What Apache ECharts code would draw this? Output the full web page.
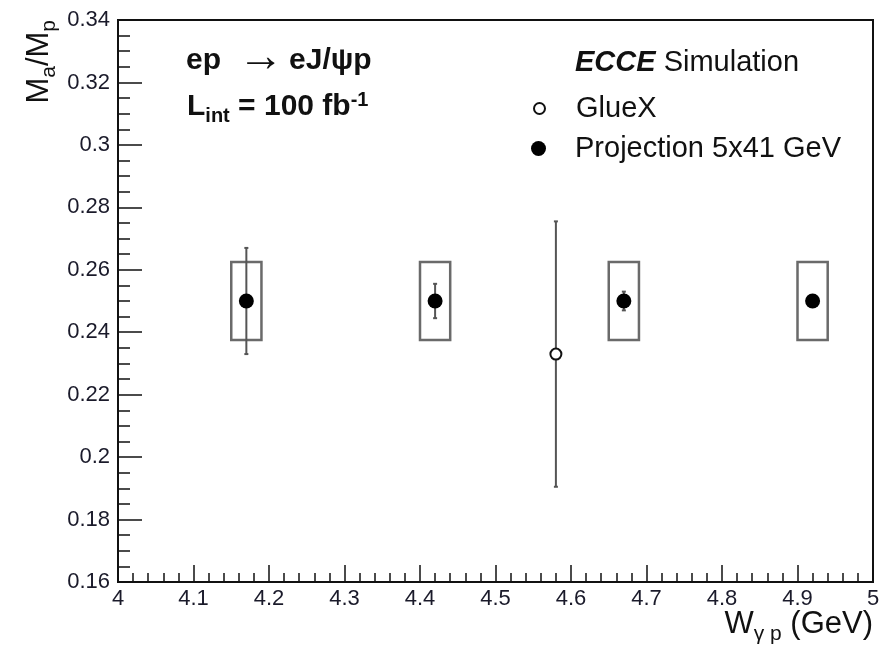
<!DOCTYPE html>
<html>
<head>
<meta charset="utf-8">
<script src="https://cdn.jsdelivr.net/npm/echarts@6/dist/echarts.min.js"></script>
<style>
  html, body { margin: 0; padding: 0; background: #fff; }
  #chart { width: 879px; height: 645px; }
</style>
</head>
<body>
<div id="chart"></div>
<script>
const FONT = '"Liberation Sans", Arial, Helvetica, sans-serif';
const INK = '#111';

// Projected ECCE points (5x41 GeV): W_gamma p bins, mass ratio, stat. error,
// systematic half-height and half bin width for the boxes
const projW = [4.17, 4.42, 4.67, 4.92];
const projRatio = [0.25, 0.25, 0.25, 0.25];
const projStatErr = [0.017, 0.0055, 0.003, 0];
const projSysHalf = [0.0125, 0.0125, 0.0125, 0.0125];
const projBinHalf = [0.02, 0.02, 0.02, 0.02];

// GlueX measurement
const gluexW = [4.58];
const gluexRatio = [0.233];
const gluexErr = [0.0425];

// Axis ranges and tick spacing
const xRange = [4, 5];
const xStep = 0.1;
const yRange = [0.16, 0.34];
const yStep = 0.02;

const projPoints = projW.map((w, i) => [w, projRatio[i]]);
const projErrData = projW.map((w, i) => [w, projRatio[i], projStatErr[i]]);
const projBoxData = projW.map((w, i) => [w, projRatio[i], projBinHalf[i], projSysHalf[i]]);
const gluexPoints = gluexW.map((w, i) => [w, gluexRatio[i]]);
const gluexErrData = gluexW.map((w, i) => [w, gluexRatio[i], gluexErr[i]]);

function errorBarItem(params, api) {
  const x = api.value(0), y = api.value(1), e = api.value(2);
  if (!e) return null;
  const top = api.coord([x, y + e]);
  const bot = api.coord([x, y - e]);
  const style = { stroke: '#555', lineWidth: 2 };
  const cap = 2;
  return {
    type: 'group',
    children: [
      { type: 'line', shape: { x1: top[0], y1: top[1], x2: bot[0], y2: bot[1] }, style },
      { type: 'line', shape: { x1: top[0] - cap, y1: top[1], x2: top[0] + cap, y2: top[1] }, style },
      { type: 'line', shape: { x1: bot[0] - cap, y1: bot[1], x2: bot[0] + cap, y2: bot[1] }, style }
    ]
  };
}

function sysBoxItem(params, api) {
  const x = api.value(0), y = api.value(1), dx = api.value(2), dy = api.value(3);
  const p0 = api.coord([x - dx, y + dy]);
  const p1 = api.coord([x + dx, y - dy]);
  return {
    type: 'rect',
    shape: { x: p0[0], y: p0[1], width: p1[0] - p0[0], height: p1[1] - p0[1] },
    style: { fill: 'none', stroke: '#6a6a6a', lineWidth: 2.5 }
  };
}

const bold = { fontFamily: FONT, fontWeight: 'bold', fontSize: 30, color: INK, lineHeight: 34 };
const arrow = { fontFamily: FONT, fontWeight: 'normal', fontSize: 46, color: INK, lineHeight: 28, padding: [0, 5, 6, 17] };
const boldSub = { fontFamily: FONT, fontWeight: 'bold', fontSize: 20, color: INK, lineHeight: 20, verticalAlign: 'top', padding: [16, 0, 0, 0] };
const boldSup = { fontFamily: FONT, fontWeight: 'bold', fontSize: 20, color: INK, lineHeight: 20, verticalAlign: 'top', padding: [0, 0, 0, 0] };
const plain = { fontFamily: FONT, fontWeight: 'normal', fontSize: 29, color: INK, lineHeight: 32 };
const axisMain = { fontFamily: FONT, fontWeight: 'normal', fontSize: 31, color: INK, lineHeight: 34 };
const axisSub = { fontFamily: FONT, fontWeight: 'normal', fontSize: 21, color: INK, lineHeight: 21, verticalAlign: 'top', padding: [17, 0, 0, 0] };

const axisCommon = {
  type: 'value',
  splitLine: { show: false },
  axisLine: { show: true, onZero: false, lineStyle: { color: INK, width: 2 } },
  nameMoveOverlap: false
};

const option = {
  animation: false,
  backgroundColor: '#fff',
  grid: {
    left: 118, right: 6, top: 20, bottom: 63,
    show: true, borderColor: INK, borderWidth: 2, backgroundColor: 'transparent',
    outerBoundsMode: 'none'
  },
  title: [
    {
      text: '{b|ep}{a|→}{b|eJ/ψp}',
      left: 186, top: 44, padding: 0,
      textStyle: { rich: { b: bold, a: arrow } }
    },
    {
      text: '{b|L}{s|int}{b| = 100 fb}{p|-1}',
      left: 187, top: 90, padding: 0,
      textStyle: { rich: { b: bold, s: boldSub, p: boldSup } }
    },
    {
      text: '{bi|ECCE}{r| Simulation}',
      left: 575, top: 47, padding: 0,
      textStyle: { fontWeight: 'normal', rich: {
        bi: { fontFamily: FONT, fontWeight: 'bold', fontStyle: 'italic', fontSize: 29, color: INK, lineHeight: 32 },
        r: plain
      } }
    }
  ],
  legend: [
    {
      data: ['GlueX'], orient: 'vertical', left: 533, top: 94, padding: 0,
      itemWidth: 11, itemHeight: 11, selectedMode: false,
      textStyle: { fontFamily: FONT, fontSize: 29, color: INK, padding: [0, 0, 0, 26] }
    },
    {
      data: ['Projection 5x41 GeV'], orient: 'vertical', left: 531, top: 134, padding: 0,
      itemWidth: 15, itemHeight: 15, selectedMode: false,
      textStyle: { fontFamily: FONT, fontSize: 29, color: INK, padding: [0, 0, 0, 24] }
    }
  ],
  xAxis: Object.assign({}, axisCommon, {
    min: xRange[0], max: xRange[1], interval: xStep,
    axisTick: { show: true, inside: true, length: 17, lineStyle: { color: INK, width: 1.5 } },
    minorTick: { show: true, splitNumber: 5, length: 9, lineStyle: { color: INK, width: 1.5 } },
    axisLabel: { fontFamily: FONT, fontSize: 22, color: '#1a1a2a', margin: 6 },
    name: '{m|W}{s|γ p}{m| (GeV)}',
    nameLocation: 'end', nameGap: 0,
    nameTextStyle: {
      align: 'right', verticalAlign: 'top', padding: [25, 0, 0, 0],
      rich: { m: axisMain, s: axisSub }
    }
  }),
  yAxis: Object.assign({}, axisCommon, {
    min: yRange[0], max: yRange[1], interval: yStep,
    axisTick: { show: true, inside: true, length: 24, lineStyle: { color: INK, width: 1.5 } },
    minorTick: { show: true, splitNumber: 4, length: 12, lineStyle: { color: INK, width: 1.5 } },
    axisLabel: { fontFamily: FONT, fontSize: 22, color: '#1a1a2a', margin: 8 },
    name: '{m|M}{s|a}{m|/M}{s|p}',
    nameLocation: 'end', nameGap: 0, nameRotate: 90,
    nameTextStyle: {
      align: 'right', verticalAlign: 'bottom', padding: [0, 0, 62, 0],
      rich: { m: axisMain, s: axisSub }
    }
  }),
  series: [
    {
      name: 'sys', type: 'custom', renderItem: sysBoxItem,
      data: projBoxData, encode: { x: 0, y: 1 }, z: 2, silent: true
    },
    {
      name: 'projErr', type: 'custom', renderItem: errorBarItem,
      data: projErrData, encode: { x: 0, y: 1 }, z: 3, silent: true
    },
    {
      name: 'gluexErr', type: 'custom', renderItem: errorBarItem,
      data: gluexErrData, encode: { x: 0, y: 1 }, z: 3, silent: true
    },
    {
      name: 'GlueX', type: 'scatter', data: gluexPoints,
      symbol: 'circle', symbolSize: 11, z: 5,
      itemStyle: { color: '#fff', borderColor: INK, borderWidth: 2, opacity: 1 }
    },
    {
      name: 'Projection 5x41 GeV', type: 'scatter', data: projPoints,
      symbol: 'circle', symbolSize: 15, z: 5,
      itemStyle: { color: '#000', opacity: 1 }
    }
  ]
};

echarts.init(document.getElementById('chart'), null, { renderer: 'canvas' }).setOption(option);
</script>
</body>
</html>
